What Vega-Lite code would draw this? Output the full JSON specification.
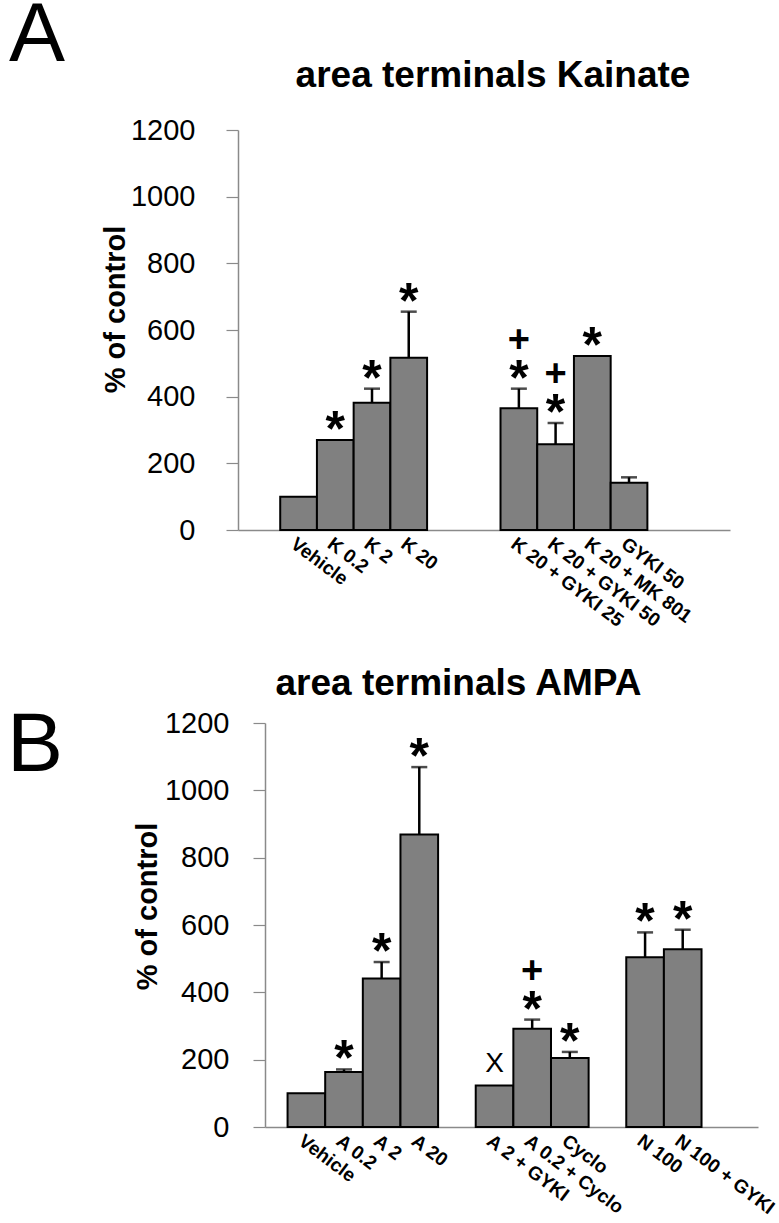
{
  "$schema": "https://vega.github.io/schema/vega-lite/v6.json",
  "background": "white",
  "padding": {"left": 6, "top": -6, "right": 5, "bottom": 5},
  "spacing": 34,
  "config": {
    "view": {"stroke": null},
    "font": "Liberation Sans",
    "axis": {"domainColor": "#8a8a8a", "tickColor": "#8a8a8a", "domainWidth": 1.5, "tickWidth": 1.2, "labelColor": "black", "titleColor": "black", "grid": false, "labelFont": "Liberation Sans", "titleFont": "Liberation Sans"},
    "title": {"font": "Liberation Sans", "color": "black"}
  },
  "vconcat": [
    {
      "title": {"text": "A", "orient": "left", "anchor": "end", "angle": 0, "align": "right", "baseline": "top", "fontSize": 84, "fontWeight": "normal", "offset": -21, "dy": -62},
      "spacing": 0,
      "hconcat": [
        {
          "width": 1,
          "height": 1,
          "data": {"values": []},
          "mark": {"type": "point", "opacity": 0}
        },
        {
          "title": {"text": "area terminals Kainate", "fontSize": 37, "fontWeight": "bold", "frame": "group", "anchor": "middle", "baseline": "alphabetic", "offset": -8, "dx": 9},
          "width": 492,
          "height": 400,
          "data": {"values": [
            {"condition": "Vehicle", "mean": 100, "upper": 100},
            {"condition": "K 0.2", "mean": 270, "upper": 270, "sig": "*"},
            {"condition": "K 2", "mean": 382, "upper": 424, "sig": "*"},
            {"condition": "K 20", "mean": 517, "upper": 655, "sig": "*"},
            {"condition": "K 20 + GYKI 25", "mean": 365, "upper": 424, "sig": "*", "plus": "+"},
            {"condition": "K 20 + GYKI 50", "mean": 257, "upper": 321, "sig": "*", "plus": "+"},
            {"condition": "K 20 + MK 801", "mean": 522, "upper": 522, "sig": "*"},
            {"condition": "GYKI 50", "mean": 142, "upper": 158}
          ]},
          "encoding": {
            "x": {"field": "condition", "type": "nominal", "sort": null,
              "scale": {"type": "band", "domain": ["   ", "Vehicle", "K 0.2", "K 2", "K 20", " ", "  ", "K 20 + GYKI 25", "K 20 + GYKI 50", "K 20 + MK 801", "GYKI 50", "    "], "paddingInner": 0, "paddingOuter": 0.7, "align": 0.107},
              "axis": {"title": null, "ticks": false, "labelAngle": 37, "labelAlign": "left", "labelBaseline": "top", "labelFontSize": 19, "labelFontWeight": "bold", "labelPadding": 4, "labelOverlap": false, "labelLimit": 0}}
          },
          "layer": [
            {
              "mark": {"type": "bar", "fill": "#808080", "stroke": "black", "strokeWidth": 2},
              "encoding": {
                "y": {"field": "mean", "type": "quantitative", "scale": {"domain": [0, 1200], "nice": false},
                  "axis": {"title": "% of control", "format": "d", "values": [0, 200, 400, 600, 800, 1000, 1200], "tickSize": 12, "labelFontSize": 29, "labelPadding": 31, "titleFontSize": 29, "titleFontWeight": "bold", "titlePadding": 0, "titleY": 179}}
              }
            },
            {
              "transform": [{"filter": "datum.upper > datum.mean"}],
              "mark": {"type": "rule", "color": "black", "strokeWidth": 2.5},
              "encoding": {
                "y": {"field": "mean", "type": "quantitative"},
                "y2": {"field": "upper"}
              }
            },
            {
              "transform": [{"filter": "datum.upper > datum.mean"}],
              "mark": {"type": "tick", "color": "black", "size": 16, "thickness": 2.5},
              "encoding": {
                "y": {"field": "upper", "type": "quantitative"}
              }
            },
            {
              "transform": [{"filter": "isValid(datum.sig)"}],
              "mark": {"type": "text", "fontSize": 50, "fontWeight": "bold", "baseline": "alphabetic", "dy": 6, "color": "black"},
              "encoding": {
                "y": {"field": "upper", "type": "quantitative"},
                "text": {"field": "sig"}
              }
            },
            {
              "transform": [{"filter": "isValid(datum.plus)"}],
              "mark": {"type": "text", "fontSize": 38, "fontWeight": "bold", "baseline": "alphabetic", "dy": -37, "color": "black"},
              "encoding": {
                "y": {"field": "upper", "type": "quantitative"},
                "text": {"field": "plus"}
              }
            }
          ]
        }
      ]
    },
    {
      "title": {"text": "B", "orient": "left", "anchor": "end", "angle": 0, "align": "right", "baseline": "top", "fontSize": 84, "fontWeight": "normal", "offset": -19, "dy": 40},
      "spacing": 32,
      "hconcat": [
        {
          "width": 1,
          "height": 1,
          "data": {"values": []},
          "mark": {"type": "point", "opacity": 0}
        },
        {
          "title": {"text": "area terminals AMPA", "fontSize": 37, "fontWeight": "bold", "frame": "group", "anchor": "middle", "baseline": "alphabetic", "offset": -23, "dx": -53},
          "width": 493,
          "height": 404,
          "data": {"values": [
            {"condition": "Vehicle", "mean": 100, "upper": 100},
            {"condition": "A 0.2", "mean": 163, "upper": 171, "sig": "*"},
            {"condition": "A 2", "mean": 441, "upper": 490, "sig": "*"},
            {"condition": "A 20", "mean": 869, "upper": 1069, "sig": "*"},
            {"condition": "A 2 + GYKI", "mean": 123, "upper": 123, "xmark": "X"},
            {"condition": "A 0.2 + Cyclo", "mean": 292, "upper": 319, "sig": "*", "plus": "+"},
            {"condition": "Cyclo", "mean": 205, "upper": 223, "sig": "*"},
            {"condition": "N 100", "mean": 504, "upper": 578, "sig": "*"},
            {"condition": "N 100 + GYKI", "mean": 528, "upper": 586, "sig": "*"}
          ]},
          "encoding": {
            "x": {"field": "condition", "type": "nominal", "sort": null,
              "scale": {"type": "band", "domain": ["Vehicle", "A 0.2", "A 2", "A 20", " ", "A 2 + GYKI", "A 0.2 + Cyclo", "Cyclo", "  ", "N 100", "N 100 + GYKI", "   "], "paddingInner": 0, "paddingOuter": 0.55, "align": 0.545},
              "axis": {"title": null, "ticks": false, "labelAngle": 37, "labelAlign": "left", "labelBaseline": "top", "labelFontSize": 19, "labelFontWeight": "bold", "labelPadding": 4, "labelOverlap": false, "labelLimit": 0}}
          },
          "layer": [
            {
              "mark": {"type": "bar", "fill": "#808080", "stroke": "black", "strokeWidth": 2},
              "encoding": {
                "y": {"field": "mean", "type": "quantitative", "scale": {"domain": [0, 1200], "nice": false},
                  "axis": {"title": "% of control", "format": "d", "values": [0, 200, 400, 600, 800, 1000, 1200], "tickSize": 12, "labelFontSize": 29, "labelPadding": 24, "titleFontSize": 29, "titleFontWeight": "bold", "titlePadding": 2, "titleY": 183}}
              }
            },
            {
              "transform": [{"filter": "datum.upper > datum.mean"}],
              "mark": {"type": "rule", "color": "black", "strokeWidth": 2.5},
              "encoding": {
                "y": {"field": "mean", "type": "quantitative"},
                "y2": {"field": "upper"}
              }
            },
            {
              "transform": [{"filter": "datum.upper > datum.mean"}],
              "mark": {"type": "tick", "color": "black", "size": 16, "thickness": 2.5},
              "encoding": {
                "y": {"field": "upper", "type": "quantitative"}
              }
            },
            {
              "transform": [{"filter": "isValid(datum.sig)"}],
              "mark": {"type": "text", "fontSize": 50, "fontWeight": "bold", "baseline": "alphabetic", "dy": 6, "color": "black"},
              "encoding": {
                "y": {"field": "upper", "type": "quantitative"},
                "text": {"field": "sig"}
              }
            },
            {
              "transform": [{"filter": "isValid(datum.plus)"}],
              "mark": {"type": "text", "fontSize": 38, "fontWeight": "bold", "baseline": "alphabetic", "dy": -37, "color": "black"},
              "encoding": {
                "y": {"field": "upper", "type": "quantitative"},
                "text": {"field": "plus"}
              }
            },
            {
              "transform": [{"filter": "isValid(datum.xmark)"}],
              "mark": {"type": "text", "fontSize": 28, "fontWeight": "normal", "baseline": "alphabetic", "dy": -14, "color": "black"},
              "encoding": {
                "y": {"field": "upper", "type": "quantitative"},
                "text": {"field": "xmark"}
              }
            }
          ]
        }
      ]
    }
  ]
}
